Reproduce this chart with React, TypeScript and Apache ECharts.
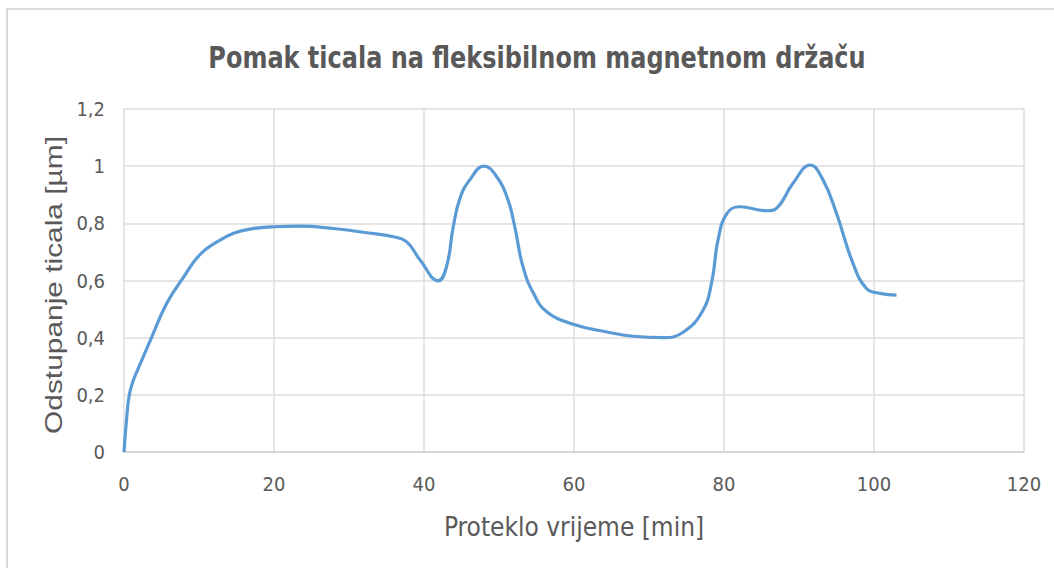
import React, { useEffect, useRef } from "react";
import * as echarts from "echarts";

const timeMin: number[] = [0, 0.36, 0.71, 1.24, 1.7, 3.5, 5.7, 7.9, 10.1, 12.4, 14.6, 16.8, 20, 23.5, 27.9, 32.4, 35.9, 37.7, 39.5, 41.9, 43.0, 43.9, 44.8, 46.1, 48.0, 49.7, 51.2, 52.1, 53.2, 54.6, 56.4, 60, 64.4, 67.9, 71.9, 74.6, 77.2, 78.4, 79.2, 80.4, 82.1, 85.7, 87.0, 89.2, 91.5, 93.2, 95.0, 97.2, 99.0, 100.8, 103.0];
const deviation: number[] = [0, 0.12, 0.2, 0.25, 0.28, 0.39, 0.52, 0.61, 0.69, 0.735, 0.765, 0.78, 0.788, 0.79, 0.782, 0.767, 0.753, 0.735, 0.671, 0.599, 0.648, 0.788, 0.888, 0.952, 1.0, 0.963, 0.882, 0.788, 0.648, 0.555, 0.49, 0.446, 0.42, 0.405, 0.4, 0.42, 0.496, 0.6, 0.741, 0.835, 0.858, 0.844, 0.853, 0.94, 1.004, 0.952, 0.835, 0.66, 0.572, 0.555, 0.549];

const titleText = "Pomak ticala na fleksibilnom magnetnom držaču";
const xName = "Proteklo vrijeme [min]";
const yName = "Odstupanje ticala [µm]";

const NARROW = "'DejaVu Sans Condensed', 'DejaVu Sans', sans-serif";
const TEXT = "#595959";

export default function App() {
  const ref = useRef<HTMLDivElement>(null);
  useEffect(() => {
    if (!ref.current) return;
    const chart = echarts.init(ref.current, null, { renderer: "svg" });
    const data = timeMin.map((t, i) => [t, deviation[i]]);
    chart.setOption({
      animation: false,
      backgroundColor: "#ffffff",
      graphic: [
        {
          type: "rect",
          shape: { x: 7, y: 9, width: 1100, height: 600 },
          style: { fill: "none", stroke: "#d9d9d9", lineWidth: 2 },
          silent: true,
        },
        {
          type: "text",
          x: 537,
          y: 57,
          scaleX: 0.86,
          silent: true,
          style: {
            text: titleText,
            fontFamily: NARROW,
            fontWeight: "bold",
            fontSize: 31,
            fill: TEXT,
            align: "center",
            verticalAlign: "middle",
          },
        },
        {
          type: "text",
          x: 54,
          y: 285,
          rotation: Math.PI / 2,
          scaleX: 1.3,
          silent: true,
          style: {
            text: yName,
            fontFamily: "'Liberation Sans', sans-serif",
            fontSize: 23,
            fill: TEXT,
            align: "center",
            verticalAlign: "middle",
          },
        },
      ],
      grid: { left: 124, right: 30, top: 109, bottom: 116 },
      xAxis: {
        type: "value",
        min: 0,
        max: 120,
        interval: 20,
        name: xName,
        nameLocation: "middle",
        nameGap: 62,
        nameTextStyle: { fontFamily: NARROW, fontSize: 26, color: TEXT },
        axisLine: { show: true, lineStyle: { color: "#d0d0d0", width: 1.5 } },
        axisTick: { show: false },
        axisLabel: { fontFamily: NARROW, fontSize: 20, color: TEXT, margin: 22 },
        splitLine: { show: true, lineStyle: { color: "#dcdcdc", width: 1.5 } },
      },
      yAxis: {
        type: "value",
        min: 0,
        max: 1.2,
        interval: 0.2,
        axisLine: { show: false },
        axisTick: { show: false },
        axisLabel: {
          fontFamily: NARROW,
          fontSize: 20,
          color: TEXT,
          margin: 19,
          formatter: (v: number) => String(Math.round(v * 10) / 10).replace(".", ","),
        },
        splitLine: { show: true, lineStyle: { color: "#dcdcdc", width: 1.5 } },
      },
      series: [
        {
          type: "line",
          data,
          smooth: 0.45,
          showSymbol: false,
          lineStyle: { color: "#5B9BD5", width: 3.2 },
        },
      ],
    });
    return () => chart.dispose();
  }, []);
  return (
    <div
      ref={ref}
      style={{ position: "fixed", left: 0, top: 0, width: 1054, height: 568 }}
    />
  );
}
